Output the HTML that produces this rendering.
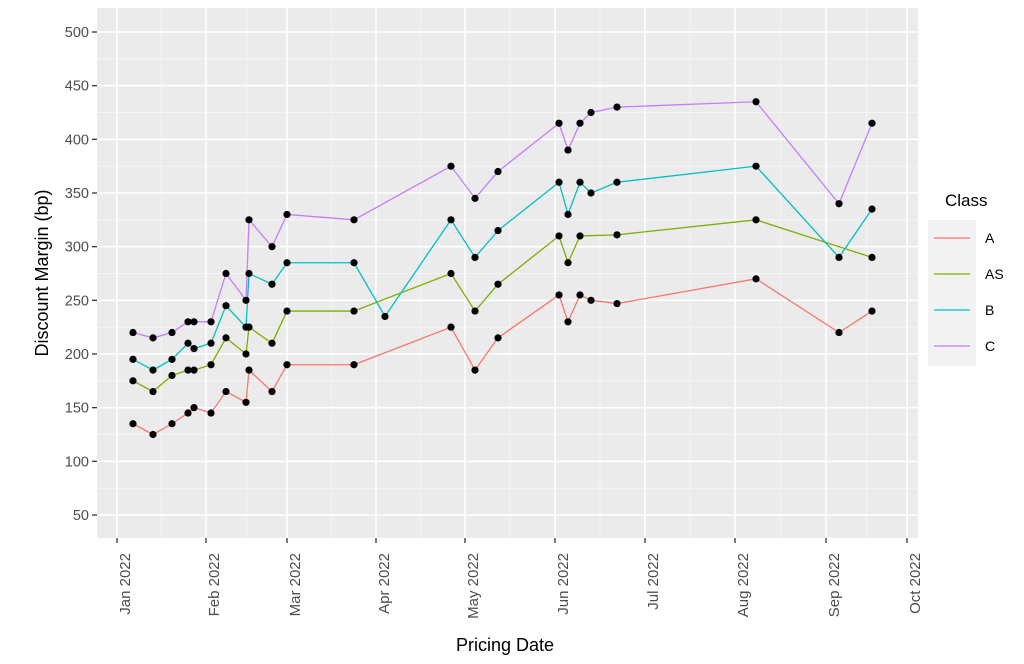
<!DOCTYPE html>
<html><head><meta charset="utf-8"><style>
body{margin:0;background:#fff;}
svg{display:block;font-family:"Liberation Sans",Arial,sans-serif;}
</style></head><body>
<svg id="s" width="1024" height="664" xmlns="http://www.w3.org/2000/svg">
<rect x="97" y="8" width="821" height="530" fill="#ebebeb"/>
<g id="grid"></g>
<g id="series"></g>
<g id="axes"></g>
<text x="945" y="206" font-size="17" fill="#000">Class</text>
<rect x="928" y="220" width="48" height="146" fill="#f2f2f2"/>
<g id="leg"></g>
<text transform="translate(48,273) rotate(-90)" text-anchor="middle" font-size="18" fill="#000">Discount Margin (bp)</text>
<text x="505" y="651" text-anchor="middle" font-size="18" fill="#000">Pricing Date</text>
</svg>
<script>
const NS="http://www.w3.org/2000/svg";
function el(p,t,a,txt){const e=document.createElementNS(NS,t);for(const k in a)e.setAttribute(k,a[k]);if(txt!==undefined)e.textContent=txt;document.getElementById(p).appendChild(e);return e;}
const Y=v=>32+(500-v)*1.0733;
const g='grid',ax='axes';
for(let v=75;v<=525;v+=50){const y=Y(v);if(y>8&&y<538)el(g,'line',{x1:97,x2:918,y1:y,y2:y,stroke:'#f5f5f5','stroke-width':1});}
const mx=[117,206,287,376,465,555,645,735,826,907];
for(let i=0;i<mx.length-1;i++){const x=(mx[i]+mx[i+1])/2;el(g,'line',{x1:x,x2:x,y1:8,y2:538,stroke:'#f5f5f5','stroke-width':1});}
for(let v=50;v<=500;v+=50){const y=Y(v);el(g,'line',{x1:97,x2:918,y1:y,y2:y,stroke:'#fff','stroke-width':1.6});
 el(ax,'line',{x1:92,x2:97,y1:y,y2:y,stroke:'#333','stroke-width':1.3});
 el(ax,'text',{x:89,y:y+5,'text-anchor':'end','font-size':14.5,fill:'#4d4d4d'},v);}
const mn=['Jan','Feb','Mar','Apr','May','Jun','Jul','Aug','Sep','Oct'];
mx.forEach((x,i)=>{el(g,'line',{x1:x,x2:x,y1:8,y2:538,stroke:'#fff','stroke-width':1.6});
 el(ax,'line',{x1:x,x2:x,y1:538,y2:543,stroke:'#333','stroke-width':1.3});
 el(ax,'text',{transform:`translate(${x+13},553) rotate(-90)`,'text-anchor':'end','font-size':15,fill:'#4d4d4d'},mn[i]+' 2022');});
const S={
C:{c:'#c77cff',p:[[133,220],[153,215],[172,220],[188,230],[194,230],[211,230],[226,275],[246,250],[249,325],[272,300],[287,330],[354,325],[451,375],[475,345],[498,370],[559,415],[568,390],[580,415],[591,425],[617,430],[756,435],[839,340],[872,415]]},
B:{c:'#00bfc4',p:[[133,195],[153,185],[172,195],[188,210],[194,205],[211,210],[226,245],[246,225],[249,275],[272,265],[287,285],[354,285],[385,235],[451,325],[475,290],[498,315],[559,360],[568,330],[580,360],[591,350],[617,360],[756,375],[839,290],[872,335]]},
AS:{c:'#7cae00',p:[[133,175],[153,165],[172,180],[188,185],[194,185],[211,190],[226,215],[246,200],[249,225],[272,210],[287,240],[354,240],[451,275],[475,240],[498,265],[559,310],[568,285],[580,310],[617,311],[756,325],[872,290]]},
A:{c:'#f8766d',p:[[133,135],[153,125],[172,135],[188,145],[194,150],[211,145],[226,165],[246,155],[249,185],[272,165],[287,190],[354,190],[451,225],[475,185],[498,215],[559,255],[568,230],[580,255],[591,250],[617,247],[756,270],[839,220],[872,240]]}};
for(const k of ['A','AS','B','C']){const s=S[k];
 el('series','polyline',{points:s.p.map(q=>q[0]+','+Y(q[1])).join(' '),fill:'none',stroke:s.c,'stroke-width':1.3});}
for(const k of ['A','AS','B','C'])S[k].p.forEach(q=>el('series','circle',{cx:q[0],cy:Y(q[1]),r:3.6,fill:'#000'}));
['A','AS','B','C'].forEach((k,i)=>{const y=238+i*36;
 el('leg','line',{x1:934,x2:970,y1:y,y2:y,stroke:S[k].c,'stroke-width':1.3});
 el('leg','text',{x:985,y:y+5,'font-size':14,fill:'#000'},k);});
</script>
</body></html>
